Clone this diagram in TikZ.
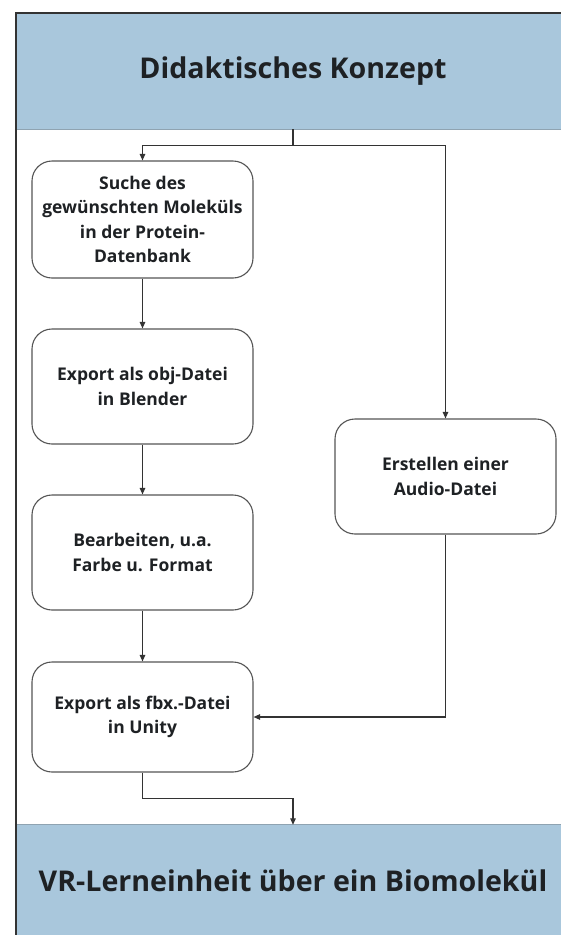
\documentclass[tikz,border=0pt]{standalone}
\usepackage{fontspec}
\setmainfont{Open Sans}
\usetikzlibrary{arrows.meta}

\definecolor{bannerblue}{HTML}{A9C7DC}
\definecolor{bannerline}{HTML}{8FA3B1}
\definecolor{framegray}{HTML}{333333}
\definecolor{boxgray}{HTML}{555555}
\definecolor{textdark}{HTML}{1E2124}

\begin{document}
\begin{tikzpicture}[x=1pt, y=-1pt,
  banner/.style={fill=bannerblue, minimum width=556pt, text=textdark, font=\bfseries\fontsize{28.6}{34}\selectfont},
  stepbox/.style={draw=boxgray, line width=1.1pt, rounded corners=20pt, minimum width=221pt, align=center, text=textdark, font=\bfseries\fontsize{17.5}{24.5}\selectfont},
  flow/.style={draw=framegray, line width=1.2pt, -{Triangle[length=6.5pt, width=5.5pt]}}
]
\useasboundingbox (0,0) rectangle (561,935);
\fill[white] (0,0) rectangle (561,935);

\node[banner, minimum height=116pt] (konzept) at (293,71) {Didaktisches Konzept};
\node[banner, minimum height=112pt] (lerneinheit) at (293,881) {VR-Lerneinheit über ein Biomolekül};
\draw[bannerline, line width=0.8pt] (konzept.south west) -- (konzept.south east);
\draw[bannerline, line width=0.8pt] (lerneinheit.north west) -- (lerneinheit.north east);
\draw[framegray, line width=2pt] (16,935) -- (16,13) -- (561,13);

\node[stepbox, minimum height=117pt] (suche) at (142.5,219.5) {Suche des\\gewünschten Moleküls\\in der Protein-\\Datenbank};
\node[stepbox, minimum height=115pt] (objexport) at (142.5,386.5) {Export als obj-Datei\\in Blender};
\node[stepbox, minimum height=115pt] (bearbeiten) at (142.5,552.5) {Bearbeiten, u.a.\\Farbe u. Format};
\node[stepbox, minimum height=110pt] (fbxexport) at (142.5,717) {Export als fbx.-Datei\\in Unity};
\node[stepbox, minimum height=115pt] (audio) at (445.5,476.5) {Erstellen einer\\Audio-Datei};

\coordinate (verteiler) at (293,145.5);
\draw[framegray, line width=1.2pt] (konzept.south) -- (verteiler);
\draw[flow] (verteiler) -| (suche.north);
\draw[flow] (verteiler) -| (audio.north);
\draw[flow] (suche) -- (objexport);
\draw[flow] (objexport) -- (bearbeiten);
\draw[flow] (bearbeiten) -- (fbxexport);
\draw[flow] (audio.south) |- (fbxexport.east);
\draw[flow] (fbxexport.south) -- ++(0,26) -| (lerneinheit.north);

\end{tikzpicture}
\end{document}
